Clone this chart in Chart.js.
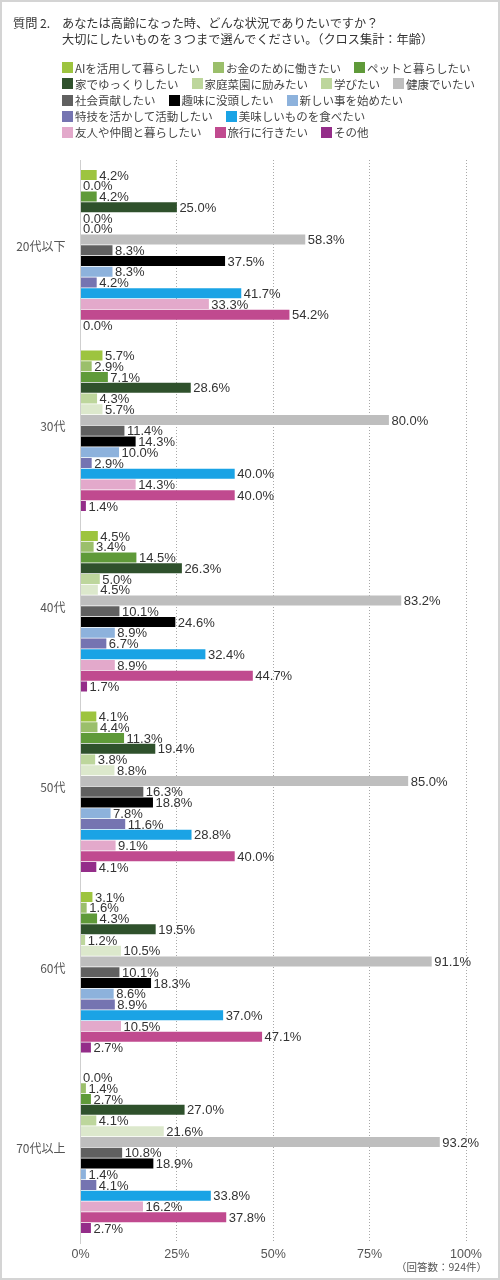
<!DOCTYPE html>
<html>
<head>
<meta charset="utf-8">
<script src="https://cdn.jsdelivr.net/npm/chart.js@4.4.1/dist/chart.umd.min.js"></script>
<style>
  html, body { margin:0; padding:0; background:#fff; }
  #wrap { position:relative; width:500px; height:1280px; overflow:hidden; background:#fff;
          font-family:"Noto Sans CJK JP","Noto Sans",sans-serif; }
  #chart { position:absolute; left:0; top:0; }
  #frame { position:absolute; left:0; top:0; width:500px; height:1280px; box-sizing:border-box;
           border:2px solid #d4d4d4; pointer-events:none; }
  #qno { position:absolute; left:13px; top:15px; font-size:12.2px; line-height:16px; color:#333; }
  #qtext { position:absolute; left:62px; top:15px; font-size:12.2px; line-height:16px; color:#333; white-space:nowrap; }
  #legend { position:absolute; left:62px; top:59.5px; width:420px; display:flex; flex-wrap:wrap;
            column-gap:13px; row-gap:0; font-size:11.5px; line-height:16.2px; color:#444; }
  .li { display:flex; align-items:center; white-space:nowrap; }
  .sw { width:11px; height:11px; margin-right:2px; flex:none; }
  #note { position:absolute; right:13px; top:1259px; font-size:10.5px; line-height:16px; color:#555; }
</style>
</head>
<body>
<div id="wrap">
  <canvas id="chart" width="500" height="1280"></canvas>
  <div id="qno">質問 2.</div>
  <div id="qtext">あなたは高齢になった時、どんな状況でありたいですか？<br>大切にしたいものを３つまで選んでください。（クロス集計：年齢）</div>
  <div id="legend"></div>
  <div id="note">（回答数：924件）</div>
  <div id="frame"></div>
</div>
<script>
// ---- data ----
const categories = ['20代以下', '30代', '40代', '50代', '60代', '70代以上'];
const seriesNames = [
  'AIを活用して暮らしたい', 'お金のために働きたい', 'ペットと暮らしたい',
  '家でゆっくりしたい', '家庭菜園に励みたい', '学びたい', '健康でいたい',
  '社会貢献したい', '趣味に没頭したい', '新しい事を始めたい',
  '特技を活かして活動したい', '美味しいものを食べたい',
  '友人や仲間と暮らしたい', '旅行に行きたい', 'その他'
];
const sAI       = [4.2, 5.7, 4.5, 4.1, 3.1, 0.0];
const sMoney    = [0.0, 2.9, 3.4, 4.4, 1.6, 1.4];
const sPet      = [4.2, 7.1, 14.5, 11.3, 4.3, 2.7];
const sHome     = [25.0, 28.6, 26.3, 19.4, 19.5, 27.0];
const sGarden   = [0.0, 4.3, 5.0, 3.8, 1.2, 4.1];
const sLearn    = [0.0, 5.7, 4.5, 8.8, 10.5, 21.6];
const sHealth   = [58.3, 80.0, 83.2, 85.0, 91.1, 93.2];
const sSociety  = [8.3, 11.4, 10.1, 16.3, 10.1, 10.8];
const sHobby    = [37.5, 14.3, 24.6, 18.8, 18.3, 18.9];
const sNew      = [8.3, 10.0, 8.9, 7.8, 8.6, 1.4];
const sSkill    = [4.2, 2.9, 6.7, 11.6, 8.9, 4.1];
const sFood     = [41.7, 40.0, 32.4, 28.8, 37.0, 33.8];
const sFriends  = [33.3, 14.3, 8.9, 9.1, 10.5, 16.2];
const sTravel   = [54.2, 40.0, 44.7, 40.0, 47.1, 37.8];
const sOther    = [0.0, 1.4, 1.7, 4.1, 2.7, 2.7];
const xTicks    = [0, 25, 50, 75, 100];

const seriesValues = [sAI, sMoney, sPet, sHome, sGarden, sLearn, sHealth, sSociety,
  sHobby, sNew, sSkill, sFood, sFriends, sTravel, sOther];

// ---- styles ----
const barColors = ['#9dc43f', '#9bbf6b', '#5f9a39', '#2f512c', '#bdd69c', '#dce8cc', '#bebebe',
  '#606060', '#000000', '#8db2dc', '#7574b1', '#1aa3e5', '#e3a9cb', '#c04a8f', '#942d89'];
const legendColors = ['#9dc43f', '#9bbf6b', '#5f9a39', '#2f512c', '#bdd69c', '#bdd69c', '#bebebe',
  '#606060', '#000000', '#8db2dc', '#7574b1', '#1aa3e5', '#e3a9cb', '#c04a8f', '#942d89'];
const labelFont = '13px "Liberation Sans", sans-serif';

// legend (HTML)
const lg = document.getElementById('legend');
seriesNames.forEach((n, i) => {
  const d = document.createElement('div'); d.className = 'li';
  const s = document.createElement('span'); s.className = 'sw'; s.style.background = legendColors[i];
  const t = document.createElement('span'); t.textContent = n;
  d.appendChild(s); d.appendChild(t); lg.appendChild(d);
});

const valueLabels = {
  id: 'valueLabels',
  afterDatasetsDraw(chart) {
    const ctx = chart.ctx;
    ctx.save();
    ctx.font = labelFont;
    ctx.fillStyle = '#333';
    ctx.textAlign = 'left';
    ctx.textBaseline = 'middle';
    chart.data.datasets.forEach((ds, di) => {
      const meta = chart.getDatasetMeta(di);
      meta.data.forEach((el, i) => {
        const v = ds.data[i];
        ctx.fillText(v.toFixed(1) + '%', el.x + 2.5, el.y + 1);
      });
    });
    ctx.restore();
  }
};

new Chart(document.getElementById('chart'), {
  type: 'bar',
  data: {
    labels: categories,
    datasets: seriesNames.map((n, i) => ({
      label: n,
      data: seriesValues[i],
      backgroundColor: barColors[i],
      borderWidth: 0,
      categoryPercentage: 0.893,
      barPercentage: 0.93
    }))
  },
  options: {
    indexAxis: 'y',
    responsive: false,
    animation: false,
    devicePixelRatio: 1,
    layout: { padding: { top: 160, right: 34, bottom: 0, left: 0 } },
    plugins: { legend: { display: false }, title: { display: false }, tooltip: { enabled: false } },
    scales: {
      x: {
        min: 0, max: 100,
        afterBuildTicks(scale) { scale.ticks = xTicks.map(v => ({ value: v })); },
        afterFit(scale) { scale.height = 37; },
        grid: {
          drawTicks: false,
          color: ctx => (ctx.tick && ctx.tick.value === 0) ? 'rgba(0,0,0,0)' : '#a8a8a8',
          lineWidth: 1
        },
        border: { display: false, dash: [1, 2] },
        ticks: {
          padding: 4,
          color: '#555',
          font: { family: '"Liberation Sans", sans-serif', size: 12.5 },
          callback: v => v + '%',
          maxRotation: 0
        }
      },
      y: {
        afterFit(scale) { scale.width = 80.5; },
        grid: { display: false, drawTicks: false },
        border: { display: true, color: '#cfcfcf', width: 1 },
        ticks: {
          padding: 15,
          labelOffset: -4,
          color: '#555',
          font: { family: '"Noto Sans CJK JP", sans-serif', size: 12 }
        }
      }
    }
  },
  plugins: [valueLabels]
});
</script>
</body>
</html>
